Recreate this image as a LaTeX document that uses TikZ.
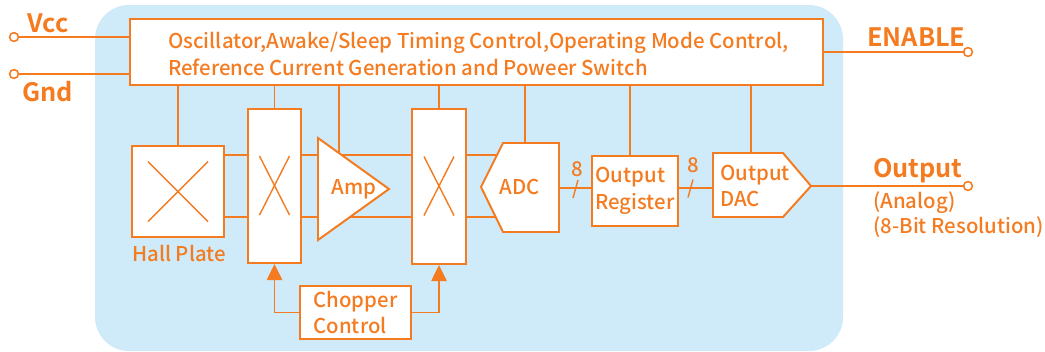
\documentclass[tikz,border=0pt]{standalone}
\usepackage{fontspec}
\setmainfont{Noto Sans CJK SC Medium}[BoldFont={Noto Sans CJK SC Bold}]
\usetikzlibrary{arrows.meta,calc}

\definecolor{chipblue}{RGB}{207,234,248}
\definecolor{chiporange}{RGB}{244,123,32}

\tikzset{
  blk/.style={draw=chiporange, fill=white, line width=1.4pt, inner sep=0pt},
  shp/.style={draw=chiporange, fill=white, line width=1.4pt, line join=miter},
  wire/.style={draw=chiporange, line width=1.4pt},
  cross/.style={draw=chiporange, line width=1pt},
  txt/.style={text=chiporange, font=\fontsize{14.5}{19}\selectfont, inner sep=0pt},
  pinlbl/.style={text=chiporange, font=\fontsize{18}{22}\selectfont\bfseries, inner sep=0pt},
  pin/.style={circle, draw=chiporange, fill=white, line width=1.1pt, inner sep=0pt, minimum size=0.22cm},
  tip/.style={-{Triangle[length=0.4cm,width=0.38cm]}}
}

\begin{document}
\begin{tikzpicture}[x=0.025cm, y=-0.025cm]
\useasboundingbox (0,0) rectangle (1045,351);

% chip body
\fill[chipblue, rounded corners=0.85cm] (95,5) rectangle (843,351);

% control block on top
\node[blk, minimum width=17.325cm, minimum height=1.65cm] (ctrl) at (476.5,52) {};
\node[txt, anchor=west, align=left] (ctrltxt) at (168,54)
  {Oscillator,Awake/Sleep Timing Control,Operating Mode Control,\\Reference Current Generation and Poweer Switch};

% supply and enable pins
\node[pin] (vcc) at (14,37) {};
\node[pin] (gnd) at (14,74) {};
\node[pin] (en) at (968,52) {};
\draw[wire] (vcc) -- (vcc -| ctrl.west);
\draw[wire] (gnd) -- (gnd -| ctrl.west);
\draw[wire] (ctrl.east |- en) -- (en);
\node[pinlbl, anchor=base west] (vcclbl) at (27,32) {Vcc};
\node[pinlbl, anchor=base west] (gndlbl) at (22,101) {Gnd};
\node[pinlbl, anchor=base west] (enlbl) at (867,46) {ENABLE};

% signal path blocks
\node[blk, minimum width=2.3cm, minimum height=2.275cm] (hall) at (178,191.5) {};
\node[txt, anchor=base west] (halllbl) at (132,261) {Hall Plate};
\node[blk, minimum width=1.325cm, minimum height=3.85cm] (chopa) at (274.5,186) {};
\node[blk, minimum width=1.35cm, minimum height=3.875cm] (chopb) at (439,186.5) {};
\node[blk, txt, draw=chiporange, minimum width=2.775cm, minimum height=1.325cm, align=left] (chc) at (355.5,312.5) {Chopper\\Control};
\node[blk, txt, draw=chiporange, minimum width=2.15cm, minimum height=1.75cm, align=left] (reg) at (635,191) {Output\\Register};

% crosses
\draw[cross] ($(hall.center)+(-30,-30)$) -- ($(hall.center)+(30,30)$);
\draw[cross] ($(hall.center)+(30,-30)$) -- ($(hall.center)+(-30,30)$);
\foreach \c in {chopa, chopb} {
  \draw[cross] ($(\c.center)+(-15,-30)$) -- ($(\c.center)+(15,29)$);
  \draw[cross] ($(\c.center)+(15,-30)$) -- ($(\c.center)+(-15,29)$);
}

% shape corners
\coordinate (ampa) at (318,138);
\coordinate (ampb) at (318,240);
\coordinate (ampt) at (389,189);
\coordinate (ampin) at ($(ampa)!0.3!(ampt)$);
\coordinate (adcl) at (481,187);
\coordinate (adctl) at (503,143);
\coordinate (adctr) at (559,143);
\coordinate (adcbr) at (559,232);
\coordinate (adcbl) at (503,232);
\coordinate (adctop) at (525,143);
\coordinate (dactl) at (713,153);
\coordinate (dactr) at (783,153);
\coordinate (dact) at (811,186);
\coordinate (dacbr) at (783,217);
\coordinate (dacbl) at (713,217);
\coordinate (dactop) at (751,153);
\coordinate (regtop) at ($(reg.north)+(-5,0)$);
\coordinate (railp) at (0,155);
\coordinate (railn) at (0,217);
\coordinate (busy) at (0,188);

% differential rails
\foreach \r in {railp, railn} {
  \draw[wire] (hall.east |- \r) -- (chopa.west |- \r);
  \draw[wire] (chopa.east |- \r) -- (chopb.west |- \r);
  \draw[wire] (chopb.east |- \r) -- (adctl |- \r);
}

% amp, adc, dac
\filldraw[shp] (ampa) -- (ampt) -- (ampb) -- cycle;
\node[txt, anchor=base] (amp) at (354,194) {Amp};
\filldraw[shp] (adcl) -- (adctl) -- (adctr) -- (adcbr) -- (adcbl) -- cycle;
\node[txt, anchor=base] (adc) at (520,194) {ADC};
\filldraw[shp] (dactl) -- (dactr) -- (dact) -- (dacbr) -- (dacbl) -- cycle;
\node[txt, align=left] (dac) at (755,186) {Output\\DAC};

% control lines from top block
\draw[wire] (ctrl.south -| hall.north) -- (hall.north);
\draw[wire] (ctrl.south -| chopa.north) -- (chopa.north);
\draw[wire] (ctrl.south -| ampin) -- (ampin);
\draw[wire] (ctrl.south -| chopb.north) -- (chopb.north);
\draw[wire] (ctrl.south -| adctop) -- (adctop);
\draw[wire] (ctrl.south -| regtop) -- (regtop);
\draw[wire] (ctrl.south -| dactop) -- (dactop);

% chopper clock
\draw[wire, tip] (chc.west) -| (chopa.south);
\draw[wire, tip] (chc.east) -| (chopb.south);

% 8-bit buses
\draw[wire] (adctr |- busy) -- (reg.west |- busy);
\draw[wire] (reg.east |- busy) -- (dacbl |- busy);
\coordinate (slasha) at (575.5,189);
\coordinate (slashb) at (690.5,188.5);
\foreach \s in {slasha, slashb}
  \draw[cross] ($(\s)+(-2.5,9)$) -- ($(\s)+(2.5,-9)$);
\node[txt, anchor=base] (bitsa) at (577,176) {8};
\node[txt, anchor=base] (bitsb) at (693,172) {8};

% analog output
\node[pin] (out) at (968,186) {};
\draw[wire] (dact) -- (out);
\node[pinlbl, anchor=base west] (outlbl) at (873,177) {Output};
\node[txt, anchor=base west] (outa) at (873,208) {(Analog)};
\node[txt, anchor=base west] (outb) at (873,233) {(8-Bit Resolution)};

\end{tikzpicture}
\end{document}
